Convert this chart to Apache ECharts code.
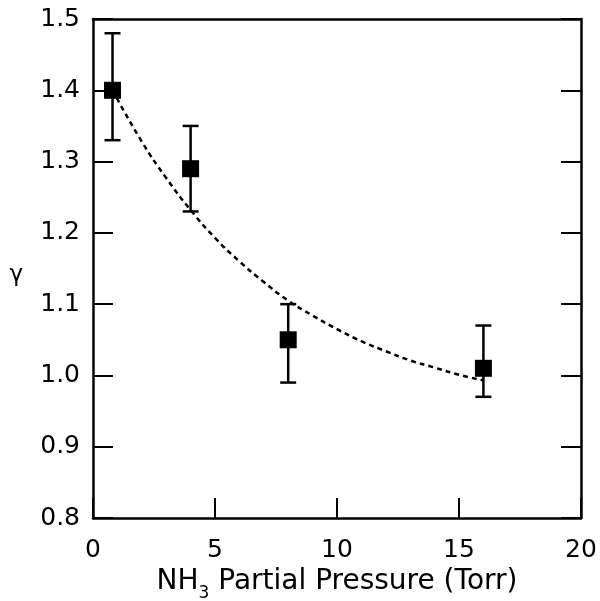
<!DOCTYPE html>
<html>
<head>
<meta charset="utf-8">
<style>
  html, body { margin: 0; padding: 0; background: #fff; }
  #chart { width: 600px; height: 601px; }
</style>
<script src="https://cdn.jsdelivr.net/npm/echarts@6/dist/echarts.min.js"></script>
</head>
<body>
<div id="chart"></div>
<script>
// Measured uptake coefficient vs. NH3 partial pressure
const pressure = [0.8, 4, 8, 16];
const gamma = [1.40, 1.29, 1.05, 1.01];
const errLow = [1.33, 1.23, 0.99, 0.97];
const errHigh = [1.48, 1.35, 1.10, 1.07];

// Fitted decay curve
const fitX = [0.8, 2, 3, 4, 5, 6, 7, 8, 9, 10, 11, 12, 13, 14, 15, 16];
const fitY = [1.400, 1.328, 1.277, 1.232, 1.193, 1.160, 1.131, 1.105, 1.084, 1.065, 1.048, 1.034, 1.021, 1.011, 1.001, 0.993];

const xTicks = [0, 5, 10, 15, 20];
const yTicks = [0.8, 0.9, 1.0, 1.1, 1.2, 1.3, 1.4, 1.5];

const FONT = 'DejaVu Sans';
const INK = '#000';

const chart = echarts.init(document.getElementById('chart'), null, { renderer: 'canvas' });

const frameLine = { show: true, onZero: false, lineStyle: { color: INK, width: 2.5 } };

chart.setOption({
  animation: false,
  backgroundColor: '#fff',
  grid: { left: 93, right: 19, top: 19, bottom: 83, containLabel: false, outerBoundsMode: 'none' },
  xAxis: [
    {
      type: 'value',
      min: xTicks[0], max: xTicks[xTicks.length - 1], interval: 5,
      position: 'bottom',
      axisLine: frameLine,
      axisTick: { show: true, inside: true, length: 20, lineStyle: { color: INK, width: 2 } },
      axisLabel: { color: INK, fontFamily: FONT, fontSize: 25, margin: 20 },
      splitLine: { show: false },
      name: '{n|NH}{s|3}{n| Partial Pressure (Torr)}',
      nameLocation: 'middle',
      nameGap: 50,
      nameTextStyle: {
        rich: {
          n: { fontFamily: FONT, fontSize: 28, color: INK, lineHeight: 34, padding: [0, 0, 6, 0], verticalAlign: 'top' },
          s: { fontFamily: FONT, fontSize: 17, color: INK, lineHeight: 16, verticalAlign: 'bottom' }
        }
      }
    },
    {
      type: 'value',
      min: xTicks[0], max: xTicks[xTicks.length - 1], interval: 5,
      position: 'top',
      axisLine: frameLine,
      axisTick: { show: false },
      axisLabel: { show: false },
      splitLine: { show: false }
    }
  ],
  yAxis: [
    {
      type: 'value',
      min: yTicks[0], max: yTicks[yTicks.length - 1], interval: 0.1,
      position: 'left',
      axisLine: frameLine,
      axisTick: { show: true, inside: true, length: 20, lineStyle: { color: INK, width: 2 } },
      axisLabel: { color: INK, fontFamily: FONT, fontSize: 25, margin: 13, formatter: v => v.toFixed(1) },
      splitLine: { show: false },
      name: 'γ',
      nameLocation: 'middle',
      nameRotate: 0,
      nameGap: 70,
      nameTextStyle: { fontFamily: FONT, fontSize: 23, color: INK, verticalAlign: 'top', lineHeight: 14 }
    },
    {
      type: 'value',
      min: yTicks[0], max: yTicks[yTicks.length - 1], interval: 0.1,
      position: 'right',
      axisLine: frameLine,
      axisTick: { show: true, inside: true, length: 20, lineStyle: { color: INK, width: 2 } },
      axisLabel: { show: false },
      splitLine: { show: false }
    }
  ],
  series: [
    {
      type: 'line',
      data: fitX.map((x, i) => [x, fitY[i]]),
      smooth: true,
      showSymbol: false,
      lineStyle: { color: INK, width: 2.5, type: [5, 4] },
      z: 2
    },
    {
      type: 'custom',
      data: pressure.map((x, i) => [x, errLow[i], errHigh[i]]),
      renderItem: (params, api) => {
        const lo = api.coord([api.value(0), api.value(1)]);
        const hi = api.coord([api.value(0), api.value(2)]);
        const half = 8;
        const style = { stroke: INK, lineWidth: 2.5 };
        return {
          type: 'group',
          children: [
            { type: 'line', shape: { x1: lo[0], y1: lo[1], x2: hi[0], y2: hi[1] }, style },
            { type: 'line', shape: { x1: lo[0] - half, y1: lo[1], x2: lo[0] + half, y2: lo[1] }, style },
            { type: 'line', shape: { x1: hi[0] - half, y1: hi[1], x2: hi[0] + half, y2: hi[1] }, style }
          ]
        };
      },
      z: 3
    },
    {
      type: 'scatter',
      data: pressure.map((x, i) => [x, gamma[i]]),
      symbol: 'rect',
      symbolSize: 17,
      itemStyle: { color: INK, opacity: 1 },
      z: 4
    }
  ]
});
</script>
</body>
</html>
